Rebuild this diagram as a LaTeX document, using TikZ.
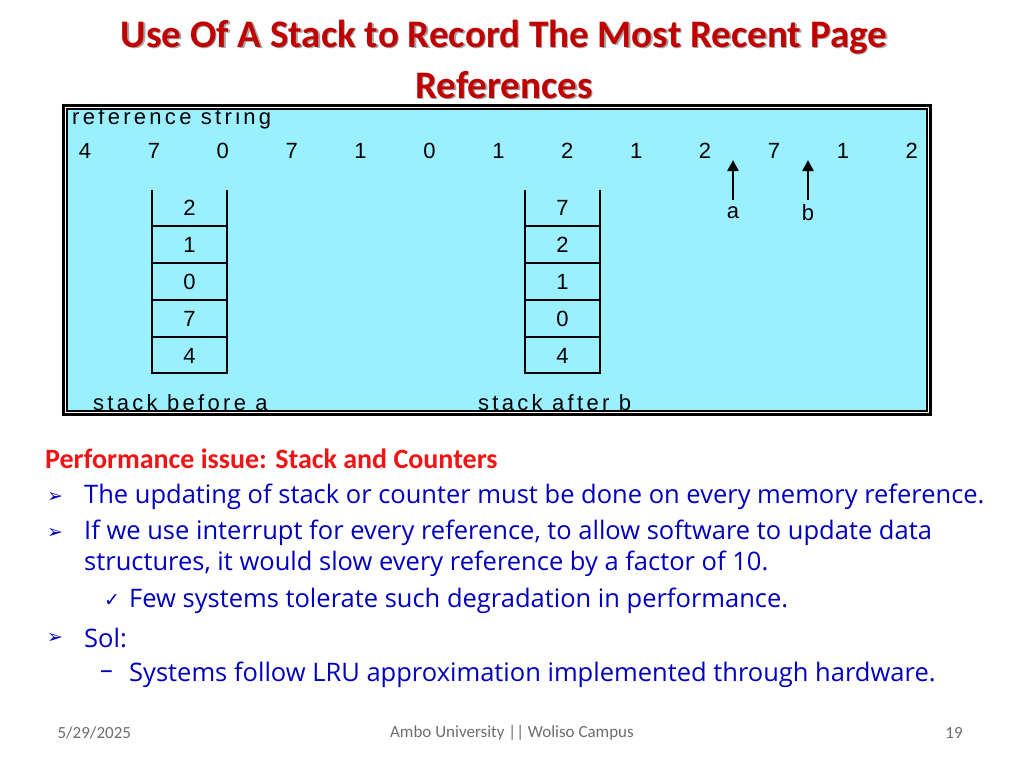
\documentclass[tikz,border=0pt]{standalone}
\usetikzlibrary{arrows.meta}
\usepackage{fontspec}
\setmainfont{Carlito}
\newfontfamily\diag[LetterSpace=15]{Liberation Sans}
\newfontfamily\bodyf{Open Sans}
\newfontfamily\symf{DejaVu Sans}
\definecolor{ttl}{RGB}{192,0,0}
\definecolor{cy}{RGB}{155,240,255}
\definecolor{bl}{RGB}{0,0,190}
\definecolor{rd}{RGB}{240,20,20}
\definecolor{ft}{RGB}{110,110,110}
\begin{document}
\begin{tikzpicture}[x=1pt,y=-1pt,
  dg/.style={font=\diag\fontsize{22}{22}\selectfont},
  tt/.style={font=\bfseries\fontsize{39}{40}\selectfont},
  bt/.style={anchor=west,inner sep=0,text=bl,font=\bodyf\fontsize{25.5}{28}\selectfont},
  sym/.style={anchor=west,inner sep=0,text=bl,font=\symf\fontsize{19}{20}\selectfont}]
\useasboundingbox (0,0) rectangle (1024,768);
\fill[white] (0,0) rectangle (1024,768);
% title
\node[text=black!35,tt] at (505.5,38.5) {Use Of A Stack to Record The Most Recent Page};
\node[text=black!35,tt] at (505.5,86.5) {References};
\node (t1)[text=ttl,tt] at (504,37) {Use Of A Stack to Record The Most Recent Page};
\node (t2)[text=ttl,tt] at (504,85) {References};
% diagram box
\fill[black] (62,104) rectangle (932,416);
\fill[white] (65,107) rectangle (929,413);
\filldraw[fill=cy,draw=black,line width=1.2] (67,109) rectangle (927,411);
\node (rs)[dg,anchor=west,inner sep=0] at (72,119) {reference string};
\foreach \v [count=\i] in {4,7,0,7,1,0,1,2,1,2,7,1,2}
  \node (r\i)[dg] at ({85+(\i-1)*68.9},151) {\v};
% stacks
\foreach \sx/\nm/\vals in {152/s/{2,1,0,7,4},525/u/{7,2,1,0,4}}{
  \draw[line width=1.6] (\sx,190) -- (\sx,373) -- (\sx+75,373) -- (\sx+75,190);
  \foreach \k in {226,263,300,337} \draw[line width=1.2] (\sx,\k) -- (\sx+75,\k);
  \foreach \v [count=\j] in \vals
    \node (\nm\j)[dg] at (\sx+37.5,{171+\j*36.9}) {\v};
}
\node (la)[dg,anchor=west,inner sep=0] at (93,403) {stack before a};
\node (lb)[dg,anchor=west,inner sep=0] at (478,403) {stack after b};
\node (a)[dg,inner sep=1] at (733,213) {a};
\node (b)[dg,inner sep=1] at (808,213) {b};
\draw[line width=2.5,-{Triangle[width=11pt,length=11pt]}] (733,200) -- (733,160);
\draw[line width=2.5,-{Triangle[width=11pt,length=11pt]}] (808,200) -- (808,160);
% text
\node (p)[anchor=west,inner sep=0,text=rd,font=\bfseries\fontsize{28}{30}\selectfont] at (45,459) {Performance issue: Stack and Counters};
\node[sym] at (47,497) {➢};
\node[bt] at (84,497) {The updating of stack or counter must be done on every memory reference.};
\node[sym] at (47,533) {➢};
\node[bt] at (84,533) {If we use interrupt for every reference, to allow software to update data};
\node[bt] at (84,564) {structures, it would slow every reference by a factor of 10.};
\node[sym] at (104,601) {✓};
\node[bt] at (129,601) {Few systems tolerate such degradation in performance.};
\node[sym] at (47,638) {➢};
\node[bt] at (84,638) {Sol:};
\node[bt] at (100,675) {–};
\node[bt] at (129,675) {Systems follow LRU approximation implemented through hardware.};
% footer
\node[text=ft,font=\fontsize{17}{18}\selectfont,anchor=west] at (54,733) {5/29/2025};
\node[text=ft,font=\fontsize{17}{18}\selectfont] at (512,733) {Ambo University || Woliso Campus};
\node[text=ft,font=\fontsize{17}{18}\selectfont] at (954,733) {19};
\end{tikzpicture}
\end{document}
